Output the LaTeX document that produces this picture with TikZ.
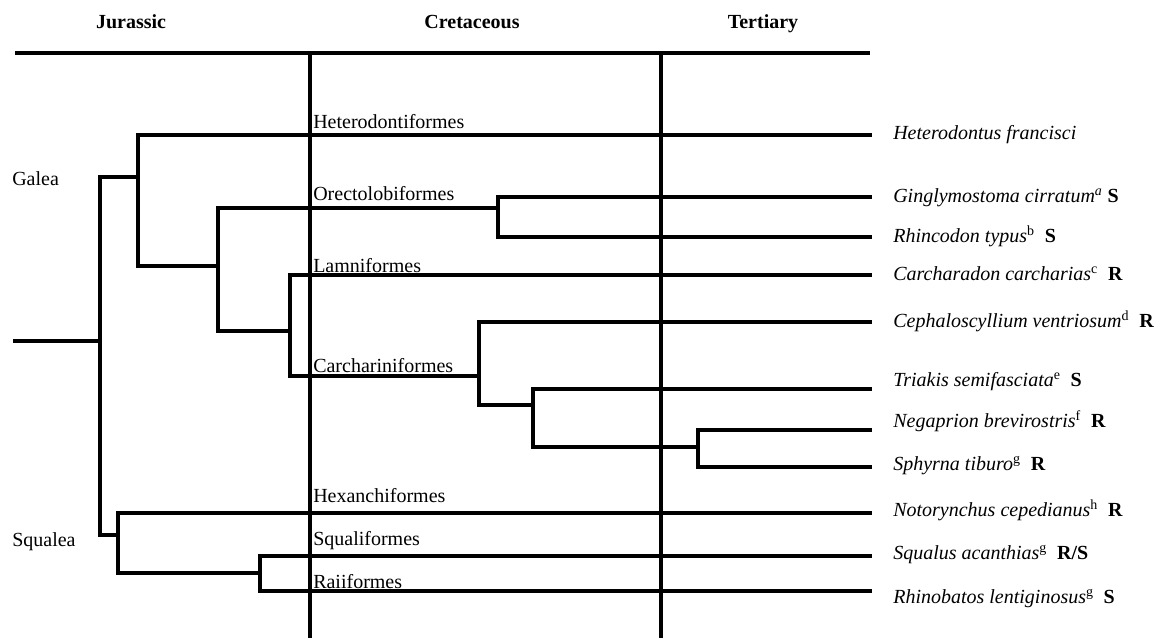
\documentclass[tikz,border=0pt]{standalone}
\usepackage{fontspec}
\setmainfont{Liberation Serif}
\begin{document}
\begin{tikzpicture}[x=0.75pt,y=-0.75pt,
  tree/.style={line width=2.3pt, line cap=rect},
  axisline/.style={line width=2.6pt},
  header/.style={font=\fontsize{15pt}{17pt}\selectfont\bfseries, anchor=base, inner sep=0pt},
  clade/.style={font=\fontsize{15pt}{17pt}\selectfont, anchor=base west, inner sep=0pt},
  species/.style={font=\fontsize{15pt}{17pt}\selectfont, anchor=base west, inner sep=0pt},
  group/.style={font=\fontsize{15pt}{17pt}\selectfont, anchor=base west, inner sep=0pt}]
\useasboundingbox (0,0) rectangle (1162,638);

% time axis
\coordinate (axL) at (15,53);
\coordinate (axR) at (870,53);
\coordinate (v1t) at (310,53);
\coordinate (v1b) at (310,638);
\coordinate (v2t) at (661,53);
\coordinate (v2b) at (661,638);
\draw[axisline] (axL) -- (axR);
\draw[axisline] (v1t) -- (v1b);
\draw[axisline] (v2t) -- (v2b);

\node[header] (hJur) at (131,29) {Jurassic};
\node[header] (hCre) at (472,29) {Cretaceous};
\node[header] (hTer) at (763,29) {Tertiary};

% internal nodes
\coordinate (r0) at (15,341);
\coordinate (root) at (100,341);
\coordinate (galea) at (138,177);
\coordinate (n2) at (218,266);
\coordinate (n3) at (498,208);
\coordinate (n4) at (290,331);
\coordinate (n5) at (479,376);
\coordinate (n6) at (533,405);
\coordinate (n7) at (698,447);
\coordinate (squalea) at (118,535);
\coordinate (n8) at (260,573);

% tips
\coordinate (t1) at (870,135);
\coordinate (t2) at (870,197);
\coordinate (t3) at (870,237);
\coordinate (t4) at (870,275);
\coordinate (t5) at (870,322);
\coordinate (t6) at (870,389);
\coordinate (t7) at (870,430);
\coordinate (t8) at (870,467);
\coordinate (t9) at (870,513);
\coordinate (t10) at (870,556);
\coordinate (t11) at (870,591);

% tree
\draw[tree] (r0) -- (root);
\draw[tree] (root) |- (galea);
\draw[tree] (root) |- (squalea);
\draw[tree] (galea) |- (t1);
\draw[tree] (galea) |- (n2);
\draw[tree] (n2) |- (n3);
\draw[tree] (n2) |- (n4);
\draw[tree] (n3) |- (t2);
\draw[tree] (n3) |- (t3);
\draw[tree] (n4) |- (t4);
\draw[tree] (n4) |- (n5);
\draw[tree] (n5) |- (t5);
\draw[tree] (n5) |- (n6);
\draw[tree] (n6) |- (t6);
\draw[tree] (n6) |- (n7);
\draw[tree] (n7) |- (t7);
\draw[tree] (n7) |- (t8);
\draw[tree] (squalea) |- (t9);
\draw[tree] (squalea) |- (n8);
\draw[tree] (n8) |- (t10);
\draw[tree] (n8) |- (t11);

% group labels
\node[group] (gGalea) at (12,185) {Galea};
\node[group] (gSqualea) at (12,546) {Squalea};

% clade labels
\node[clade] (cHet) at (313,128) {Heterodontiformes};
\node[clade] (cOre) at (313,200) {Orectolobiformes};
\node[clade] (cLam) at (313,272) {Lamniformes};
\node[clade] (cCar) at (313,372) {Carchariniformes};
\node[clade] (cHex) at (313,502) {Hexanchiformes};
\node[clade] (cSqu) at (313,545) {Squaliformes};
\node[clade] (cRai) at (313,588) {Raiiformes};

% species labels
\node[species] (s1) at (893,140) {\textit{Heterodontus francisci}};
\node[species] (s2) at (893,202) {\textit{Ginglymostoma cirratum}\textsuperscript{\textit{a}}\ \textbf{S}};
\node[species] (s3) at (893,242) {\textit{Rhincodon typus}\textsuperscript{b}\ \ \textbf{S}};
\node[species] (s4) at (893,280) {\textit{Carcharadon carcharias}\textsuperscript{c}\ \ \textbf{R}};
\node[species] (s5) at (893,327) {\textit{Cephaloscyllium ventriosum}\textsuperscript{d}\ \ \textbf{R}};
\node[species] (s6) at (893,386) {\textit{Triakis semifasciata}\textsuperscript{e}\ \ \textbf{S}};
\node[species] (s7) at (893,427) {\textit{Negaprion brevirostris}\textsuperscript{f}\ \ \textbf{R}};
\node[species] (s8) at (893,470) {\textit{Sphyrna tiburo}\textsuperscript{g}\ \ \textbf{R}};
\node[species] (s9) at (893,516) {\textit{Notorynchus cepedianus}\textsuperscript{h}\ \ \textbf{R}};
\node[species] (s10) at (893,559) {\textit{Squalus acanthias}\textsuperscript{g}\ \ \textbf{R/S}};
\node[species] (s11) at (893,603) {\textit{Rhinobatos lentiginosus}\textsuperscript{g}\ \ \textbf{S}};
\end{tikzpicture}
\end{document}
